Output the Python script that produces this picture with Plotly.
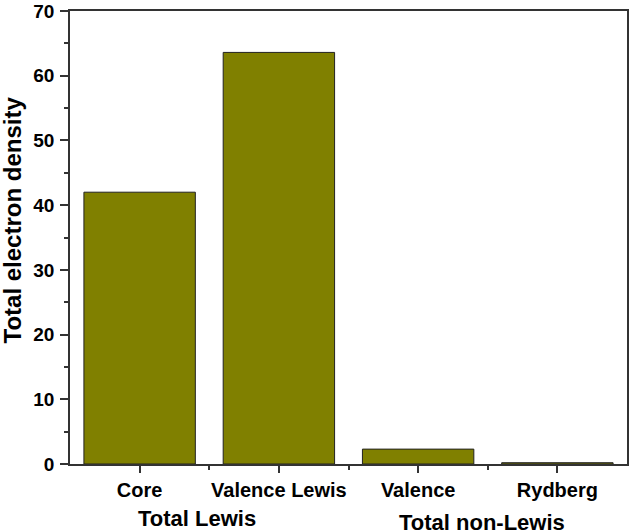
import plotly.graph_objects as go

categories = ["Core", "Valence Lewis", "Valence", "Rydberg"]
values = [42.0, 63.6, 2.3, 0.2]
groups = ["Total Lewis", "Total non-Lewis"]
y_ticks = [0, 10, 20, 30, 40, 50, 60, 70]

FONT = "Liberation Sans, Arial, sans-serif"
pos = list(range(len(categories)))

fig = go.Figure()
fig.add_trace(go.Bar(
    x=pos, y=values, width=0.8,
    marker=dict(color="#808000", line=dict(color="#222222", width=1)),
))

fig.update_layout(
    width=630, height=531,
    margin=dict(l=70, r=1, t=10, b=67),
    plot_bgcolor="white", paper_bgcolor="white",
    showlegend=False,
    font=dict(family=FONT, color="black"),
)
fig.update_xaxes(
    range=[-0.5, 3.5],
    tickvals=pos, ticktext=categories,
    tickfont=dict(size=20, family=FONT, weight="bold", color="black"),
    ticks="outside", ticklen=7, tickwidth=1.5, tickcolor="#333",
    ticklabelstandoff=0,
    showline=True, linecolor="#333", linewidth=1.5, mirror=True,
    showgrid=False, zeroline=False,
    minor=dict(tickvals=[0.5, 1.5, 2.5], ticks="outside", ticklen=4, tickwidth=1.5, tickcolor="#333"),
)
fig.update_yaxes(
    range=[0, 70],
    tickvals=y_ticks,
    tickfont=dict(size=19, family=FONT, weight="bold", color="black"),
    ticks="outside", ticklen=8, tickwidth=1.5, tickcolor="#333",
    ticklabelstandoff=2, ticklabeloverflow="allow",
    showline=True, linecolor="#333", linewidth=1.5, mirror=True,
    showgrid=False, zeroline=False,
    minor=dict(dtick=5, tick0=0, ticks="outside", ticklen=4, tickwidth=1.5, tickcolor="#333"),
)

fig.add_annotation(
    text="<b>Total electron density</b>", textangle=-90,
    xref="paper", yref="paper", x=0, xshift=-58, xanchor="center",
    y=0.5, yshift=17, yanchor="middle", showarrow=False,
    font=dict(size=24, family=FONT, color="black"),
)
fig.add_annotation(
    text="<b>" + groups[0] + "</b>", xref="x", yref="paper",
    x=0.41, y=0, yshift=-54, yanchor="middle", showarrow=False,
    font=dict(size=22, family=FONT, color="black"),
)
fig.add_annotation(
    text="<b>" + groups[1] + "</b>", xref="x", yref="paper",
    x=2.46, y=0, yshift=-58, yanchor="middle", showarrow=False,
    font=dict(size=22, family=FONT, color="black"),
)

fig.write_html("out.html", config={"displayModeBar": False},
               post_script="document.body.style.margin='0';")
